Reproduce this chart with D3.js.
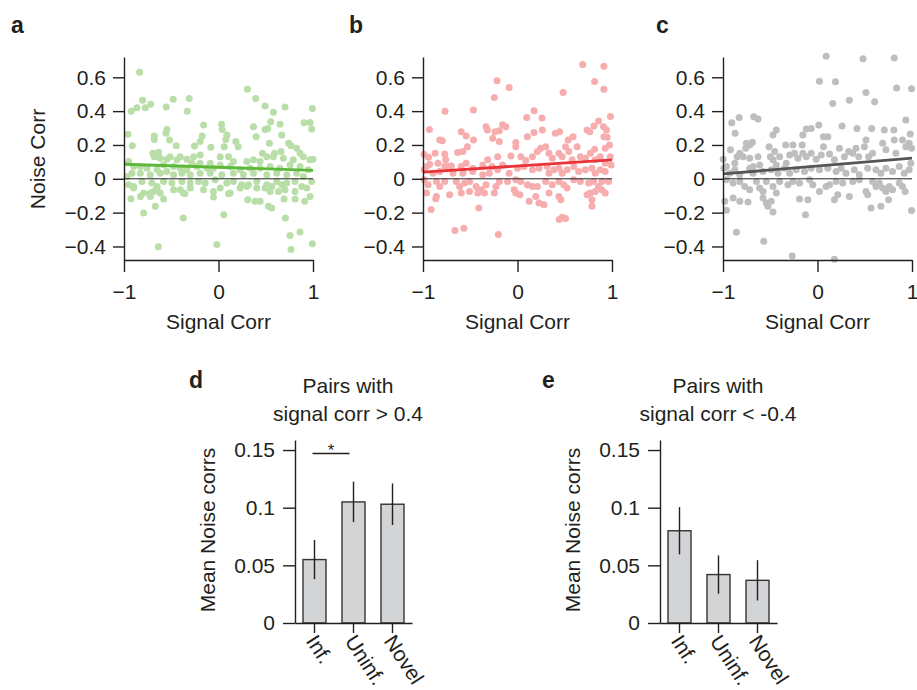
<!DOCTYPE html>
<html><head><meta charset="utf-8">
<script src="https://cdn.jsdelivr.net/npm/d3@7"></script>
<style>
body{margin:0;background:#fff}
text{font-family:"Liberation Sans",Arial,Helvetica,sans-serif;fill:#231f20}
</style>
</head><body>
<svg id="chart" width="917" height="690"></svg>
<script>
// ---------- data ----------
const scatterXTicks = [-1, 0, 1];
const scatterYTicks = [-0.4, -0.2, 0, 0.2, 0.4, 0.6];
const barYTicks = [0, 0.05, 0.1, 0.15];
const barCategories = ["Inf.", "Uninf.", "Novel"];

// panel a: [signal corr, noise corr]
const pointsA = [
[-0.835,0.63],[-0.923,0.40],[-0.863,0.42],[-0.803,0.465],[-0.775,0.42],[-0.718,0.44],[-0.553,0.425],[-0.479,0.47],
[-0.31,0.475],[-0.331,0.40],[0.306,0.53],[0.394,0.475],[0.493,0.43],[0.581,0.394],[0.704,0.425],[0.993,0.416],
[0.905,0.331],[0.968,0.333],[0.986,0.294],[-0.958,0.263],[-0.912,0.196],[-0.546,0.292],[-0.556,0.27],[-0.518,0.229],
[-0.68,0.253],[-0.68,0.233],[-0.447,0.196],[-0.158,0.318],[-0.173,0.253],[-0.254,0.194],[-0.194,0.22],[-0.081,0.186],
[0.032,0.322],[0.039,0.292],[0.088,0.259],[0.077,0.233],[0.06,0.19],[0.183,0.22],[0.208,0.19],[0.37,0.308],
[0.398,0.249],[0.493,0.292],[0.521,0.298],[0.553,0.337],[0.651,0.322],[0.669,0.259],[0.539,0.21],[0.465,0.151],
[0.592,0.151],[0.662,0.161],[0.743,0.21],[0.768,0.196],[0.827,0.18],[0.863,0.151],[0.898,0.131],[-0.264,0.131],
[-0.194,0.141],[-0.694,0.151],[-0.68,0.131],[-0.634,0.157],[-0.616,0.122],[-0.546,0.116],[-0.511,0.131],[-0.44,0.112],
[-0.405,0.131],[-0.335,0.116],[-0.282,0.092],[-0.194,0.092],[-0.088,0.092],[0.018,0.131],[0.106,0.131],[0.158,0.102],
[0.299,0.102],[0.37,0.112],[0.44,0.102],[0.511,0.131],[0.581,0.131],[0.687,0.122],[0.792,0.112],[0.968,0.112],
[1.0,0.116],[-0.951,0.102],[-0.898,0.073],[-0.827,0.073],[-0.757,0.063],[-0.651,0.053],[-0.581,0.082],[-0.475,0.073],
[-0.405,0.063],[-0.335,0.053],[-0.229,0.073],[-0.123,0.063],[-0.053,0.063],[0.018,0.082],[0.123,0.073],[0.229,0.053],
[0.335,0.063],[0.44,0.063],[0.546,0.073],[0.651,0.063],[0.757,0.082],[0.863,0.073],[0.951,0.053],[-0.968,0.014],
[-0.915,0.033],[-0.827,0.033],[-0.722,0.024],[-0.616,0.033],[-0.546,0.043],[-0.475,0.024],[-0.387,0.033],[-0.299,0.024],
[-0.194,0.033],[-0.088,0.033],[0.035,0.024],[0.158,0.033],[0.264,0.024],[0.37,0.033],[0.511,0.024],[0.616,0.033],
[0.722,0.024],[0.827,0.033],[0.898,0.014],[-0.951,-0.035],[-0.898,-0.045],[-0.81,-0.016],[-0.704,-0.025],[-0.651,-0.045],
[-0.581,-0.016],[-0.493,-0.025],[-0.387,-0.016],[-0.299,-0.025],[-0.211,-0.016],[-0.141,-0.025],[-0.035,-0.006],[0.088,-0.025],
[0.158,-0.016],[0.246,-0.035],[0.317,-0.035],[0.405,-0.016],[0.511,-0.035],[0.563,-0.045],[0.616,-0.016],[0.669,-0.035],
[0.722,-0.025],[0.81,-0.016],[0.88,-0.045],[0.986,-0.016],[-0.898,-0.055],[-0.792,-0.084],[-0.722,-0.104],[-0.687,-0.075],
[-0.651,-0.055],[-0.616,-0.084],[-0.475,-0.065],[-0.405,-0.065],[-0.37,-0.084],[-0.299,-0.055],[-0.158,-0.065],[-0.053,-0.075],
[0.018,-0.055],[0.123,-0.084],[0.229,-0.055],[0.299,-0.045],[0.405,-0.055],[0.493,-0.055],[0.546,-0.075],[0.634,-0.075],
[0.704,-0.065],[0.81,-0.075],[0.933,-0.055],[0.968,-0.104],[-0.926,-0.118],[-0.827,-0.104],[-0.722,-0.084],[-0.581,-0.12],
[-0.356,-0.088],[-0.053,-0.108],[0.106,-0.088],[0.31,-0.124],[0.387,-0.133],[0.44,-0.133],[0.528,-0.163],[0.563,-0.173],
[0.694,-0.12],[0.81,-0.12],[0.912,-0.133],[-0.792,-0.202],[-0.669,-0.163],[-0.373,-0.231],[0.056,-0.212],[0.708,-0.231],
[-0.637,-0.402],[-0.018,-0.388],[0.757,-0.335],[0.863,-0.314],[0.768,-0.418],[0.993,-0.384]
];
const fitA = [[-1, 0.086], [1, 0.050]];

// panel b
const pointsB = [
[0.69,0.675],[0.914,0.665],[0.816,0.575],[0.914,0.529],[0.483,0.51],[-0.217,0.58],[-0.088,0.539],[-0.245,0.48],
[-0.767,0.40],[-0.466,0.406],[0.175,0.402],[0.098,0.363],[0.259,0.359],[0.984,0.369],[0.858,0.341],[0.809,0.312],
[-0.932,0.292],[-0.595,0.278],[-0.333,0.308],[-0.319,0.288],[-0.238,0.278],[-0.158,0.32],[-0.123,0.308],[-0.193,0.284],
[-0.263,0.239],[-0.193,0.22],[-0.018,0.214],[0.105,0.249],[0.175,0.273],[0.263,0.288],[0.4,0.269],[0.445,0.278],
[0.536,0.229],[0.588,0.249],[0.736,0.288],[0.764,0.278],[0.91,0.308],[0.942,0.288],[0.914,0.249],[0.949,0.245],
[0.974,0.2],[0.928,0.18],[0.816,0.175],[-0.823,0.229],[-0.795,0.225],[-0.543,0.253],[-0.466,0.229],[-0.53,0.19],
[-0.989,0.145],[-0.872,0.151],[-0.77,0.147],[-0.634,0.155],[-0.578,0.161],[-0.942,0.127],[-0.963,0.073],[-0.928,0.086],
[-0.841,0.092],[-0.76,0.112],[-0.736,0.073],[-0.7,0.076],[-0.595,0.073],[-0.543,0.092],[-0.473,0.063],[-0.368,0.082],
[-0.315,0.112],[-0.27,0.073],[-0.21,0.131],[-0.158,0.082],[-0.07,0.135],[-0.018,0.19],[0.035,0.131],[0.088,0.108],
[0.158,0.131],[0.21,0.161],[0.245,0.18],[0.298,0.19],[0.333,0.151],[0.368,0.122],[0.438,0.151],[0.473,0.131],
[0.508,0.19],[0.543,0.161],[0.578,0.112],[0.63,0.19],[0.665,0.131],[0.718,0.122],[0.77,0.151],[0.823,0.112],
[0.876,0.131],[0.928,0.092],[0.981,0.131],[0.991,0.082],[-0.989,0.053],[-0.893,0.033],[-0.823,0.043],[-0.77,0.073],
[-0.683,0.033],[-0.578,0.033],[-0.473,0.043],[-0.368,0.024],[-0.298,0.033],[-0.21,0.053],[-0.088,0.033],[0.0,0.063],
[0.07,0.073],[0.158,0.053],[0.228,0.063],[0.315,0.073],[0.333,0.033],[0.385,0.053],[0.438,0.063],[0.473,0.033],
[0.525,0.053],[0.595,0.073],[0.648,0.043],[0.718,0.053],[0.788,0.063],[0.823,0.033],[0.876,0.053],[0.928,0.043],
[-0.989,-0.006],[-0.946,-0.035],[-0.858,-0.016],[-0.823,-0.045],[-0.77,-0.016],[-0.648,-0.016],[-0.613,-0.045],[-0.56,-0.025],
[-0.508,-0.016],[-0.438,-0.045],[-0.385,-0.065],[-0.333,-0.035],[-0.228,-0.045],[-0.193,-0.016],[-0.105,-0.016],[-0.018,-0.006],
[0.035,-0.016],[0.105,-0.035],[0.158,-0.045],[0.21,-0.045],[0.298,-0.016],[0.368,-0.035],[0.438,-0.016],[0.49,-0.035],
[0.595,-0.006],[0.665,-0.016],[0.753,-0.025],[0.806,-0.016],[0.858,-0.045],[0.893,-0.016],[0.963,-0.016],[-0.963,-0.084],
[-0.858,-0.104],[-0.865,-0.118],[-0.718,-0.094],[-0.595,-0.084],[-0.508,-0.075],[-0.42,-0.084],[-0.35,-0.084],[-0.245,-0.084],
[-0.035,-0.065],[-0.018,-0.084],[0.025,-0.094],[0.123,-0.133],[0.193,-0.104],[0.228,-0.143],[0.28,-0.153],[0.333,-0.084],
[0.438,-0.104],[0.459,-0.124],[0.525,-0.055],[0.736,-0.094],[0.77,-0.084],[0.788,-0.124],[0.788,-0.163],[0.823,-0.075],
[0.893,-0.065],[0.928,-0.084],[-0.914,-0.182],[-0.41,-0.173],[0.441,-0.241],[0.473,-0.227],[0.508,-0.235],[-0.662,-0.306],
[-0.567,-0.292],[-0.203,-0.329]
];
const fitB = [[-1, 0.039], [1, 0.112]];

// panel c
const pointsC = [
[0.091,0.725],[0.482,0.71],[0.812,0.714],[0.021,0.576],[0.19,0.573],[0.837,0.537],[0.995,0.533],[0.513,0.51],
[0.337,0.465],[0.162,0.445],[0.605,0.455],[-0.907,0.331],[-0.829,0.363],[-0.872,0.269],[-0.675,0.367],[-0.629,0.353],
[-0.752,0.21],[-0.717,0.2],[-0.689,0.216],[-0.471,0.259],[-0.436,0.288],[-0.155,0.259],[-0.119,0.294],[-0.067,0.298],
[0.014,0.318],[0.063,0.249],[0.109,0.249],[0.26,0.312],[0.418,0.298],[0.573,0.298],[0.707,0.288],[0.935,0.347],
[0.808,0.288],[0.981,0.265],[-0.998,0.116],[-0.963,0.073],[-0.921,0.171],[-0.875,0.092],[-0.85,0.131],[-0.822,0.151],
[-0.787,0.131],[-0.759,0.18],[-0.717,0.122],[-0.682,0.073],[-0.629,0.131],[-0.612,0.082],[-0.513,0.19],[-0.499,0.131],
[-0.471,0.112],[-0.453,0.161],[-0.436,0.082],[-0.401,0.131],[-0.337,0.2],[-0.33,0.092],[-0.295,0.141],[-0.26,0.2],
[-0.243,0.151],[-0.207,0.122],[-0.162,0.2],[-0.155,0.151],[-0.119,0.131],[-0.067,0.151],[-0.014,0.116],[0.039,0.141],
[0.063,0.19],[0.127,0.147],[0.179,0.112],[0.232,0.18],[0.285,0.131],[0.33,0.161],[0.373,0.151],[0.408,0.18],
[0.436,0.131],[0.496,0.19],[0.513,0.229],[0.541,0.131],[0.583,0.151],[0.689,0.21],[0.724,0.171],[0.812,0.229],
[0.83,0.151],[0.9,0.229],[0.935,0.19],[0.97,0.21],[0.995,0.18],[-0.991,0.063],[-0.928,0.033],[-0.875,0.053],
[-0.822,0.024],[-0.717,0.063],[-0.682,0.033],[-0.576,0.043],[-0.489,0.053],[-0.418,0.033],[-0.348,0.063],[-0.295,0.033],
[-0.225,0.053],[-0.137,0.043],[-0.067,0.063],[0.021,0.053],[0.109,0.063],[0.197,0.043],[0.25,0.063],[0.302,0.033],
[0.39,0.053],[0.443,0.024],[0.531,0.063],[0.619,0.053],[0.671,0.033],[0.724,0.063],[0.794,0.043],[0.865,0.073],
[0.917,0.033],[0.97,0.053],[0.988,0.092],[-0.963,-0.006],[-0.893,-0.025],[-0.822,-0.016],[-0.77,-0.045],[-0.717,-0.065],
[-0.647,-0.016],[-0.612,-0.055],[-0.576,-0.075],[-0.541,-0.016],[-0.471,-0.045],[-0.401,-0.016],[-0.313,-0.035],[-0.26,-0.016],
[-0.19,-0.025],[-0.084,-0.006],[-0.049,-0.035],[0.021,-0.075],[0.091,-0.045],[0.127,-0.035],[0.197,-0.016],[0.267,-0.025],
[0.373,-0.016],[0.443,-0.006],[0.513,-0.075],[0.531,-0.094],[0.583,-0.016],[0.619,-0.045],[0.654,-0.025],[0.689,-0.055],
[0.724,-0.075],[0.759,-0.045],[0.794,-0.065],[0.865,-0.025],[0.9,-0.045],[0.928,-0.075],[-0.981,-0.133],[-0.963,-0.186],
[-0.893,-0.114],[-0.822,-0.133],[-0.735,-0.137],[-0.576,-0.114],[-0.541,-0.143],[-0.524,-0.163],[-0.489,-0.133],[-0.436,-0.084],
[-0.471,-0.196],[-0.19,-0.12],[-0.127,-0.212],[-0.102,-0.124],[0.179,-0.124],[0.214,-0.094],[0.337,-0.104],[0.566,-0.173],
[0.671,-0.163],[0.752,-0.124],[0.995,-0.188],[-0.858,-0.316],[-0.569,-0.369],[-0.267,-0.457],[0.179,-0.476]
];
const fitC = [[-1, 0.029], [1, 0.122]];

// bar panels
const barMeansD = [0.055, 0.105, 0.103];
const barErrD   = [0.017, 0.0175, 0.018];
const barMeansE = [0.080, 0.042, 0.037];
const barErrE   = [0.0205, 0.0166, 0.0175];
const sigPairD = ["Inf.", "Uninf."];
const sigLevelD = 0.147;

// ---------- drawing ----------
const svg = d3.select("#chart");
const FONT = 21;
const ink = "#231f20";

function styleAxis(g) {
  g.selectAll("path.domain").attr("stroke", ink).attr("stroke-width", 1.4);
  g.selectAll(".tick line").attr("stroke", ink).attr("stroke-width", 1.4);
  g.selectAll(".tick text").attr("font-size", FONT).attr("fill", ink)
    .style("font-family", '"Liberation Sans", Arial, sans-serif');
}

const fmtScatter = d => d === 0 ? "0" : d3.format(".1f")(d);
const fmtX = d => d === 0 ? "0" : d3.format("d")(d);

function scatterPanel(left, pts, fit, ptColor, lineColor, letter, yTitle) {
  const x = d3.scaleLinear().domain([-1, 1]).range([left, left + 189]);
  const y = d3.scaleLinear().domain([-0.48, 0.72]).range([260, 57]);
  const g = svg.append("g");

  g.append("g").selectAll("circle").data(pts).join("circle")
    .attr("cx", d => x(d[0])).attr("cy", d => y(d[1])).attr("r", 3.5)
    .attr("fill", ptColor);

  g.append("line").attr("x1", x(-1)).attr("x2", x(1)).attr("y1", y(0)).attr("y2", y(0))
    .attr("stroke", "#222").attr("stroke-width", 1);

  g.append("path").datum(fit)
    .attr("d", d3.line().x(d => x(d[0])).y(d => y(d[1])))
    .attr("stroke", lineColor).attr("stroke-width", 2.8).attr("fill", "none");

  const ya = g.append("g").attr("transform", `translate(${left},0)`)
    .call(d3.axisLeft(y).tickValues(scatterYTicks).tickFormat(fmtScatter).tickSize(11).tickSizeOuter(0).tickPadding(7));
  styleAxis(ya);
  const xa = g.append("g").attr("transform", `translate(0,260)`)
    .call(d3.axisBottom(x).tickValues(scatterXTicks).tickFormat(fmtX).tickSize(12).tickSizeOuter(0).tickPadding(12));
  styleAxis(xa);

  g.append("text").attr("x", (x(-1) + x(1)) / 2).attr("y", 329).attr("text-anchor", "middle")
    .attr("font-size", FONT).text("Signal Corr");
  g.append("text").attr("x", letter.x).attr("y", 33).attr("font-size", 23).attr("font-weight", "bold")
    .text(letter.t);
  if (yTitle) {
    g.append("text").attr("transform", "translate(45,159) rotate(-90)").attr("text-anchor", "middle")
      .attr("font-size", FONT).text(yTitle);
  }
}

scatterPanel(124, pointsA, fitA, "#b9dea8", "#5cb83a", {x: 11, t: "a"}, "Noise Corr");
scatterPanel(423, pointsB, fitB, "#f7adae", "#ea3338", {x: 349, t: "b"}, null);
scatterPanel(723, pointsC, fitC, "#bdbec0", "#555558", {x: 656, t: "c"}, null);

function barPanel(left, means, errs, letter, titleX, titleLine2, sig) {
  const x = d3.scaleBand().domain(barCategories).range([left, left + 117])
    .paddingInner(0.41).paddingOuter(0.205);
  const y = d3.scaleLinear().domain([0, 0.1587]).range([623, 440]);
  const g = svg.append("g");
  const data = barCategories.map((c, i) => ({c, m: means[i], e: errs[i]}));

  g.selectAll("rect").data(data).join("rect")
    .attr("x", d => x(d.c)).attr("width", x.bandwidth())
    .attr("y", d => y(d.m)).attr("height", d => y(0) - y(d.m))
    .attr("fill", "#d3d4d6").attr("stroke", "#333").attr("stroke-width", 1.4);

  g.selectAll("line.err").data(data).join("line").attr("class", "err")
    .attr("x1", d => x(d.c) + x.bandwidth() / 2).attr("x2", d => x(d.c) + x.bandwidth() / 2)
    .attr("y1", d => y(d.m - d.e)).attr("y2", d => y(d.m + d.e))
    .attr("stroke", ink).attr("stroke-width", 1.4);

  const ya = g.append("g").attr("transform", `translate(${left},0)`)
    .call(d3.axisLeft(y).tickValues(barYTicks).tickFormat(d => String(d)).tickSize(12).tickSizeOuter(0).tickPadding(8));
  styleAxis(ya);
  const xa = g.append("g").attr("transform", `translate(0,623)`)
    .call(d3.axisBottom(x).tickSize(10).tickSizeOuter(0).tickFormat(""));
  styleAxis(xa);

  g.selectAll("text.cat").data(barCategories).join("text").attr("class", "cat")
    .attr("transform", c => `translate(${x(c) + x.bandwidth() / 2 - 3},637) rotate(57)`)
    .attr("dy", "0.35em").attr("font-size", FONT).text(c => c);

  if (sig) {
    const x1 = x(sig.pair[0]) + x.bandwidth() / 2 - 2, x2 = x(sig.pair[1]) + x.bandwidth() / 2 - 4;
    g.append("line").attr("x1", x1).attr("x2", x2).attr("y1", y(sig.level)).attr("y2", y(sig.level))
      .attr("stroke", ink).attr("stroke-width", 1.4);
    g.append("text").attr("x", (x1 + x2) / 2).attr("y", y(sig.level) + 3).attr("text-anchor", "middle")
      .attr("font-size", 17).text("*");
  }

  g.append("text").attr("x", titleX).attr("y", 393).attr("text-anchor", "middle").attr("font-size", FONT).text("Pairs with");
  g.append("text").attr("x", titleX).attr("y", 421).attr("text-anchor", "middle").attr("font-size", FONT).text(titleLine2);
  g.append("text").attr("x", letter.x).attr("y", 388).attr("font-size", 23).attr("font-weight", "bold").text(letter.t);
  g.append("text").attr("transform", `translate(${left - 80},530) rotate(-90)`).attr("text-anchor", "middle")
    .attr("font-size", FONT).text("Mean Noise corrs");
}

barPanel(295, barMeansD, barErrD, {x: 189, t: "d"}, 348, "signal corr > 0.4", {pair: sigPairD, level: sigLevelD});
barPanel(660, barMeansE, barErrE, {x: 542, t: "e"}, 718, "signal corr < -0.4", null);
</script>
</body></html>
